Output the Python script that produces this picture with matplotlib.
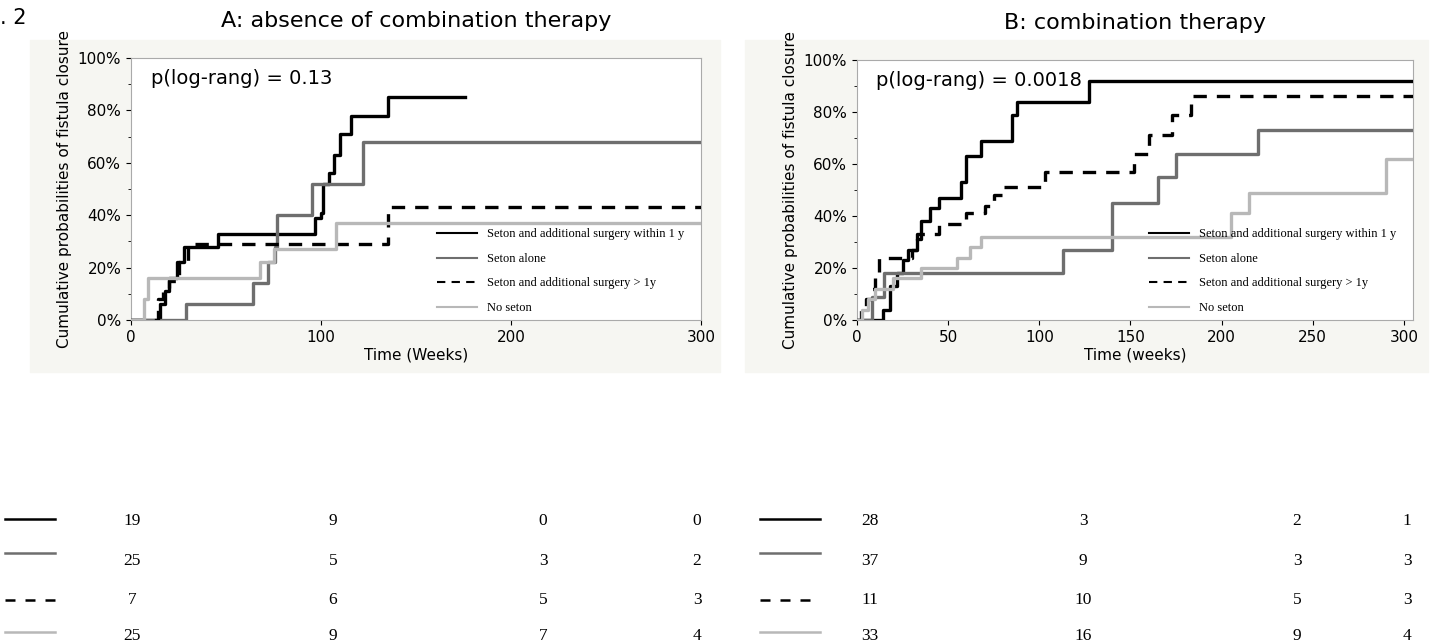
import matplotlib.pyplot as plt
from matplotlib.patches import Rectangle
from matplotlib.lines import Line2D
from matplotlib.ticker import PercentFormatter

# ---- data ----
series_names = ['Seton and additional surgery within 1 y', 'Seton alone',
                'Seton and additional surgery > 1y', 'No seton']

# panel A: absence of combination therapy
a_within_t = [0, 15, 18, 20, 24, 28, 46, 97, 100, 101, 104, 107, 110, 116, 135, 176]
a_within_p = [0, 6, 11, 16, 22, 28, 33, 39, 41, 52, 56, 63, 71, 78, 85, 85]
a_alone_t = [0, 29, 64, 72, 76, 77, 95, 122, 300]
a_alone_p = [0, 6, 14, 22, 28, 40, 52, 68, 68]
a_late_t = [0, 14, 17, 20, 25, 30, 33, 135, 300]
a_late_p = [0, 8, 12, 15, 22, 28, 29, 43, 43]
a_none_t = [0, 7, 9, 65, 68, 75, 108, 300]
a_none_p = [0, 8, 16, 16, 22, 27, 37, 37]

# panel B: combination therapy
b_within_t = [0, 14, 18, 22, 25, 28, 33, 35, 40, 45, 57, 60, 68, 85, 88, 127, 305]
b_within_p = [0, 4, 13, 18, 23, 27, 33, 38, 43, 47, 53, 63, 69, 79, 84, 92, 92]
b_late_t = [0, 2, 5, 8, 10, 12, 30, 33, 35, 45, 60, 70, 75, 80, 103, 152, 160, 173, 183, 305]
b_late_p = [0, 4, 8, 12, 17, 24, 27, 31, 33, 37, 41, 44, 48, 51, 57, 64, 71, 79, 86, 86]
b_alone_t = [0, 8, 15, 113, 140, 165, 175, 220, 305]
b_alone_p = [0, 9, 18, 27, 45, 55, 64, 73, 73]
b_none_t = [0, 3, 6, 10, 20, 35, 55, 62, 68, 205, 215, 290, 305]
b_none_p = [0, 4, 8, 12, 16, 20, 24, 28, 32, 41, 49, 62, 62]

# numbers at risk
risk_a = [[19, 9, 0, 0], [25, 5, 3, 2], [7, 6, 5, 3], [25, 9, 7, 4]]
risk_b = [[28, 3, 2, 1], [37, 9, 3, 3], [11, 10, 5, 3], [33, 16, 9, 4]]

styles = [dict(color='black', ls='-'), dict(color='#6e6e6e', ls='-'),
          dict(color='black', ls=(0, (4, 3))), dict(color='#b8b8b8', ls='-')]

fig = plt.figure(figsize=(14.43, 6.44), dpi=100)
W, H = 1443, 644


def box(x0, y0, x1, y1):
    return [x0 / W, 1 - y1 / H, (x1 - x0) / W, (y1 - y0) / H]


bg = '#f6f6f2'
for x0, x1 in [(30, 720), (745, 1428)]:
    b = box(x0, 40, x1, 372)
    fig.patches.append(Rectangle((b[0], b[1]), b[2], b[3], transform=fig.transFigure,
                                 color=bg, zorder=-5))

axA = fig.add_axes(box(131, 58, 701, 320))
axB = fig.add_axes(box(857, 60, 1413, 320))

panels = [
    (axA, [(a_within_t, a_within_p), (a_alone_t, a_alone_p), (a_late_t, a_late_p), (a_none_t, a_none_p)],
     300, [0, 100, 200, 300], 'Time (Weeks)', 'p(log-rang) = 0.13', 'A: absence of combination therapy'),
    (axB, [(b_within_t, b_within_p), (b_alone_t, b_alone_p), (b_late_t, b_late_p), (b_none_t, b_none_p)],
     305, [0, 50, 100, 150, 200, 250, 300], 'Time (weeks)', 'p(log-rang) = 0.0018', 'B: combination therapy'),
]

for ax, curves, xmax, xt, xlab, ptxt, title in panels:
    ax.set_zorder(2)
    for (t, p), st in zip(curves, styles):
        ax.step(t, p, where='post', lw=2.4, zorder=3, **st)
    ax.set_xlim(0, xmax)
    ax.set_ylim(0, 100)
    ax.set_xticks(xt)
    ax.set_yticks(range(0, 101, 20))
    ax.set_yticks(range(0, 101, 10), minor=True)
    ax.yaxis.set_major_formatter(PercentFormatter(decimals=0))
    ax.tick_params(labelsize=11)
    ax.set_xlabel(xlab, fontsize=11, labelpad=2)
    ax.set_ylabel('Cumulative probabilities of fistula closure', fontsize=11)
    for s in ax.spines.values():
        s.set_color('#aaaaaa')
    ax.set_facecolor('white')
    ax.text(0.035, 0.92, ptxt, transform=ax.transAxes, fontsize=14, va='center')
    ax.set_title(title, fontsize=16, pad=22)
    handles = [Line2D([], [], lw=1.5, **st) for st in styles]
    ax.legend(handles, series_names, loc='lower right', bbox_to_anchor=(0.99, -0.02), frameon=False,
              prop={'family': 'Liberation Serif', 'size': 9}, handlelength=3.2, labelspacing=1.0)

fig.text(0.0, 0.972, '. 2', fontsize=15, va='center')

rows_y = [521, 561, 600, 636]
line_y = [519, 553, 600, 632]
for ax, risk, line_x, col_x in [(axA, risk_a, (5, 55), [132, 333, 543, 697]),
                                (axB, risk_b, (760, 820), [870, 1083, 1297, 1407])]:
    for i, (row, st) in enumerate(zip(risk, styles)):
        fig.add_artist(Line2D([line_x[0] / W, line_x[1] / W], [1 - line_y[i] / H] * 2, lw=1.8,
                              transform=fig.transFigure, color=st['color'],
                              ls=(0, (4, 4)) if i == 2 else '-'))
        for v, x in zip(row, col_x):
            fig.text(x / W, 1 - rows_y[i] / H, str(v), ha='center', va='center',
                     fontsize=12.5, family='Liberation Serif')

fig.savefig('out.png', dpi=100)
